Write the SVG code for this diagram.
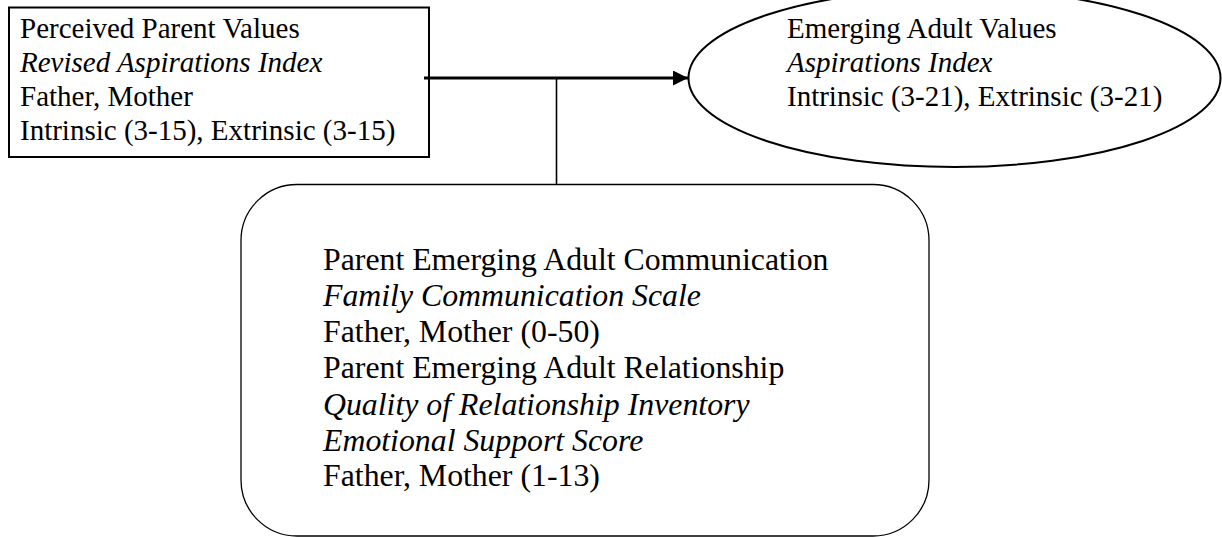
<svg xmlns="http://www.w3.org/2000/svg" width="1222" height="537" viewBox="0 0 1222 537">
  <style>
    .t { font-family: "Liberation Serif", "Times New Roman", serif; fill: #000; }
    .s29 { font-size: 29px; }
    .s32 { font-size: 31.8px; }
    .i { font-style: italic; }
    .box { fill: #fff; stroke: #000; }
  </style>
  <defs>
    <marker id="arrow" markerUnits="userSpaceOnUse" markerWidth="16" markerHeight="16" refX="15" refY="7.5" orient="auto">
      <path d="M0,0 L15,7.5 L0,15 Z" fill="#000"/>
    </marker>
  </defs>
  <rect width="1222" height="537" fill="#fff"/>

  <g id="node-perceived-parent-values">
    <rect class="box" x="9" y="7.5" width="420" height="149.5" stroke-width="2"/>
    <text class="t s29" x="20" y="38">Perceived Parent Values</text>
    <text class="t s29 i" x="20" y="72">Revised Aspirations Index</text>
    <text class="t s29" x="20" y="106">Father, Mother</text>
    <text class="t s29" x="20" y="140">Intrinsic (3-15), Extrinsic (3-15)</text>
  </g>

  <g id="node-emerging-adult-values">
    <ellipse class="box" cx="954.5" cy="78" rx="266" ry="89" stroke-width="2"/>
    <text class="t s29" x="787" y="38">Emerging Adult Values</text>
    <text class="t s29 i" x="787" y="72">Aspirations Index</text>
    <text class="t s29" x="787" y="106">Intrinsic (3-21), Extrinsic (3-21)</text>
  </g>

  <g id="node-communication-relationship">
    <rect class="box" x="241" y="184.5" width="688" height="351.5" rx="56" ry="56" stroke-width="1.3"/>
    <text class="t s32" x="323" y="269.5">Parent Emerging Adult Communication</text>
    <text class="t s32 i" x="323" y="305.5">Family Communication Scale</text>
    <text class="t s32" x="323" y="342">Father, Mother (0-50)</text>
    <text class="t s32" x="323" y="378">Parent Emerging Adult Relationship</text>
    <text class="t s32 i" x="323" y="414.5">Quality of Relationship Inventory</text>
    <text class="t s32 i" x="323" y="450.5">Emotional Support Score</text>
    <text class="t s32" x="323" y="486">Father, Mother (1-13)</text>
  </g>

  <g id="connectors" stroke="#000" fill="none">
    <line x1="424" y1="78" x2="688" y2="78" stroke-width="2.8" marker-end="url(#arrow)"/>
    <line x1="556.5" y1="78" x2="556.5" y2="184.5" stroke-width="1.6"/>
  </g>
</svg>
